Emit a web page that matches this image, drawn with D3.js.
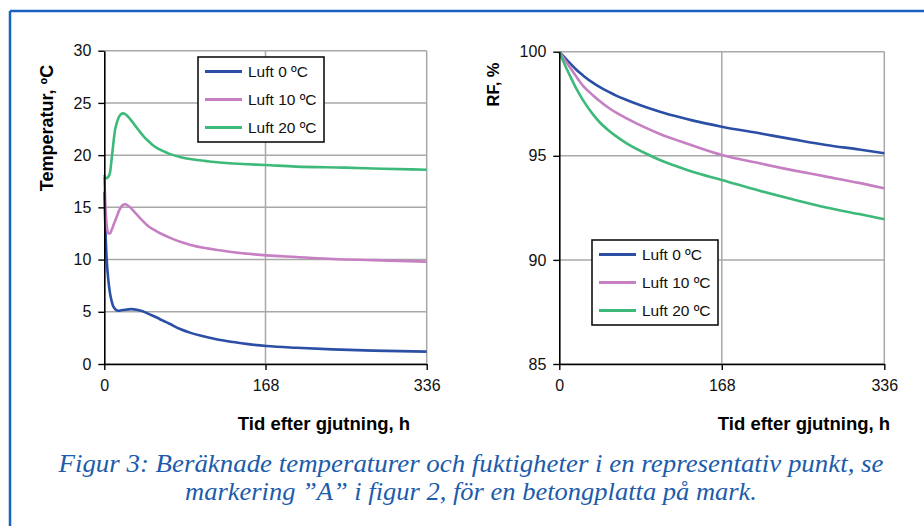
<!DOCTYPE html>
<html>
<head>
<meta charset="utf-8">
<script src="https://cdn.jsdelivr.net/npm/d3@7"></script>
<style>
  html, body { margin: 0; padding: 0; background: #fff; }
  svg { display: block; }
</style>
</head>
<body>
<svg id="canvas" width="924" height="526"></svg>
<script>
// series names and colours
const seriesNames = ['Luft 0 ºC', 'Luft 10 ºC', 'Luft 20 ºC'];
const colors = ['#2c4fa6', '#c67fc2', '#3dba7a'];

// temperature, left chart (time in h, value in °C)
const tempT0 = [0, 0.5, 1.5, 2.5, 4.2, 5.9, 7.7, 9.4, 12, 14.6, 18, 21.6, 28, 34, 40, 46, 54.6, 60, 68, 79, 90, 100, 118, 134.5, 150, 169, 200, 238, 280, 336];
const tempV0 = [16.5, 15, 12, 10, 8.05, 6.8, 6.0, 5.5, 5.2, 5.1, 5.15, 5.2, 5.25, 5.2, 5.05, 4.8, 4.45, 4.2, 3.85, 3.35, 2.98, 2.72, 2.35, 2.1, 1.9, 1.72, 1.55, 1.4, 1.28, 1.18];
const tempT10 = [0, 1, 2.5, 4.2, 6, 7.5, 10, 12.9, 16, 19, 21.6, 25, 32, 37, 45.9, 54.6, 59.8, 68, 80.7, 90, 105, 120, 134.5, 150, 169, 200, 238.6, 280, 336];
const tempV10 = [17.9, 15.5, 13.3, 12.5, 12.5, 12.8, 13.4, 14.1, 14.8, 15.2, 15.3, 15.15, 14.5, 14.0, 13.2, 12.7, 12.45, 12.1, 11.65, 11.4, 11.1, 10.9, 10.7, 10.55, 10.4, 10.25, 10.06, 9.95, 9.8];
const tempT20 = [0, 1.5, 2.5, 4, 5.9, 7.5, 9.4, 11, 12.9, 15, 17, 19.8, 23, 27, 32, 37, 41, 45.9, 50, 54.6, 59.8, 68, 80.7, 93, 105, 120, 134.5, 150, 168, 200, 250, 290, 336];
const tempV20 = [18.1, 17.8, 17.8, 17.9, 18.3, 19.5, 21.1, 22.3, 23.05, 23.6, 23.9, 24.0, 23.85, 23.45, 22.85, 22.25, 21.8, 21.35, 21.0, 20.7, 20.45, 20.12, 19.78, 19.58, 19.45, 19.3, 19.2, 19.13, 19.05, 18.9, 18.8, 18.7, 18.6];

// relative humidity, right chart (time in h, value in %)
const rfT = [0, 5, 11, 17.9, 24.8, 35, 42, 52, 59.3, 69.6, 86.8, 104, 124.8, 138.5, 168, 207, 242, 276, 310, 336];
const rfV0 = [100, 99.75, 99.45, 99.12, 98.85, 98.5, 98.3, 98.05, 97.88, 97.68, 97.38, 97.12, 96.85, 96.69, 96.4, 96.08, 95.79, 95.52, 95.3, 95.12];
const rfV10 = [100, 99.65, 99.25, 98.78, 98.35, 97.9, 97.62, 97.27, 97.06, 96.8, 96.4, 96.05, 95.7, 95.48, 95.04, 94.64, 94.3, 94.0, 93.7, 93.44];
const rfV20 = [100, 99.45, 98.85, 98.2, 97.65, 96.98, 96.6, 96.18, 95.92, 95.6, 95.17, 94.8, 94.44, 94.22, 93.84, 93.32, 92.9, 92.52, 92.2, 91.95];

// ticks
const xTicks = [0, 168, 336];
const tempTicks = [0, 5, 10, 15, 20, 25, 30];
const rfTicks = [85, 90, 95, 100];

const xTitle = 'Tid efter gjutning, h';
const captionLines = [
  'Figur 3: Beräknade temperaturer och fuktigheter i en representativ punkt, se',
  'markering ”A” i figur 2, för en betongplatta på mark.'
];

const svg = d3.select('#canvas');
const FONT = '"Liberation Sans", Arial, sans-serif';

// frame: left and top blue rules
svg.append('line').attr('x1', 10).attr('y1', 11).attr('x2', 10).attr('y2', 526)
  .style('stroke', '#1a62bf').style('stroke-width', 2.5);
svg.append('line').attr('x1', 10).attr('y1', 11).attr('x2', 924).attr('y2', 11)
  .style('stroke', '#1a62bf').style('stroke-width', 2.5);

const zip = (ts, vs) => ts.map((t, i) => ({ t: t, v: vs[i] }));

const drawChart = (opt) => {
  const x = d3.scaleLinear().domain([0, 336]).range([opt.x0, opt.x1]);
  const y = d3.scaleLinear().domain(opt.yDomain).range([364, opt.yTop]);
  const g = svg.append('g');

  // grid
  g.selectAll('.hgrid').data(opt.yTicks).enter().append('line')
    .attr('x1', x(0)).attr('x2', x(336))
    .attr('y1', d => y(d)).attr('y2', d => y(d))
    .style('stroke', '#a8a8a8').style('stroke-width', 1.5);
  g.selectAll('.vgrid').data(xTicks.slice(1)).enter().append('line')
    .attr('x1', d => x(d)).attr('x2', d => x(d))
    .attr('y1', y(opt.yDomain[0])).attr('y2', y(opt.yDomain[1]))
    .style('stroke', '#a8a8a8').style('stroke-width', 1.5);

  // series
  const line = d3.line().x(d => x(d.t)).y(d => y(d.v)).curve(d3.curveMonotoneX);
  opt.series.forEach((s, i) => {
    g.append('path').datum(s)
      .attr('d', line)
      .style('fill', 'none')
      .style('stroke', colors[i])
      .style('stroke-width', 2.6)
      .style('stroke-linejoin', 'round');
  });

  // axes
  const yAxis = g.append('g').attr('transform', `translate(${x(0)},0)`)
    .call(d3.axisLeft(y).tickValues(opt.yTicks).tickSize(6).tickPadding(7).tickSizeOuter(0));
  const xAxis = g.append('g').attr('transform', `translate(0,${y(opt.yDomain[0])})`)
    .call(d3.axisBottom(x).tickValues(xTicks).tickSize(6).tickPadding(10).tickSizeOuter(0));
  [yAxis, xAxis].forEach(a => {
    a.select('.domain').style('stroke', '#000').style('stroke-width', 1.6);
    a.selectAll('.tick line').style('stroke', '#000').style('stroke-width', 1.4);
    a.selectAll('.tick text').style('font-family', FONT).style('font-size', '16px').style('fill', '#111');
  });

  // titles
  g.append('text').attr('x', opt.xTitleX).attr('y', 430)
    .attr('text-anchor', 'middle')
    .style('font-family', FONT).style('font-weight', 'bold').style('font-size', '18.5px')
    .text(xTitle);
  g.append('text')
    .attr('transform', `translate(${opt.yTitleX},${opt.yTitleY}) rotate(-90)`)
    .attr('text-anchor', 'middle')
    .style('font-family', FONT).style('font-weight', 'bold').style('font-size', opt.yTitleSize)
    .text(opt.yTitle);

  // legend
  const lg = g.append('g');
  lg.append('rect').attr('x', opt.lx).attr('y', opt.ly).attr('width', 126).attr('height', 85)
    .style('fill', '#fff').style('stroke', '#111').style('stroke-width', 1.6);
  seriesNames.forEach((name, i) => {
    const cy = opt.ly + 14.5 + i * 28;
    lg.append('line').attr('x1', opt.lx + 7).attr('x2', opt.lx + 44)
      .attr('y1', cy).attr('y2', cy)
      .style('stroke', colors[i]).style('stroke-width', 3);
    lg.append('text').attr('x', opt.lx + 50).attr('y', cy + 5.5)
      .style('font-family', FONT).style('font-size', '15.5px').style('fill', '#111')
      .text(name);
  });
};

drawChart({
  x0: 104.3, x1: 426.7, yTop: 50.7, yDomain: [0, 30], yTicks: tempTicks,
  series: [zip(tempT0, tempV0), zip(tempT10, tempV10), zip(tempT20, tempV20)],
  xTitleX: 324, yTitle: 'Temperatur, ºC', yTitleX: 53, yTitleY: 128, yTitleSize: '18px',
  lx: 198, ly: 57
});

drawChart({
  x0: 559.3, x1: 884.3, yTop: 51.7, yDomain: [85, 100], yTicks: rfTicks,
  series: [zip(rfT, rfV0), zip(rfT, rfV10), zip(rfT, rfV20)],
  xTitleX: 804, yTitle: 'RF, %', yTitleX: 499, yTitleY: 84.5, yTitleSize: '16.5px',
  lx: 592, ly: 240
});

// caption
const capWidths = [825, 572];
const capY = [472, 500];
captionLines.forEach((txt, i) => {
  svg.append('text')
    .attr('x', 471).attr('y', capY[i])
    .attr('text-anchor', 'middle')
    .attr('textLength', capWidths[i])
    .attr('lengthAdjust', 'spacingAndGlyphs')
    .style('font-family', '"Liberation Serif", "Times New Roman", serif')
    .style('font-style', 'italic')
    .style('font-size', '25px')
    .style('fill', '#1c5cab')
    .text(txt);
});
</script>
</body>
</html>
